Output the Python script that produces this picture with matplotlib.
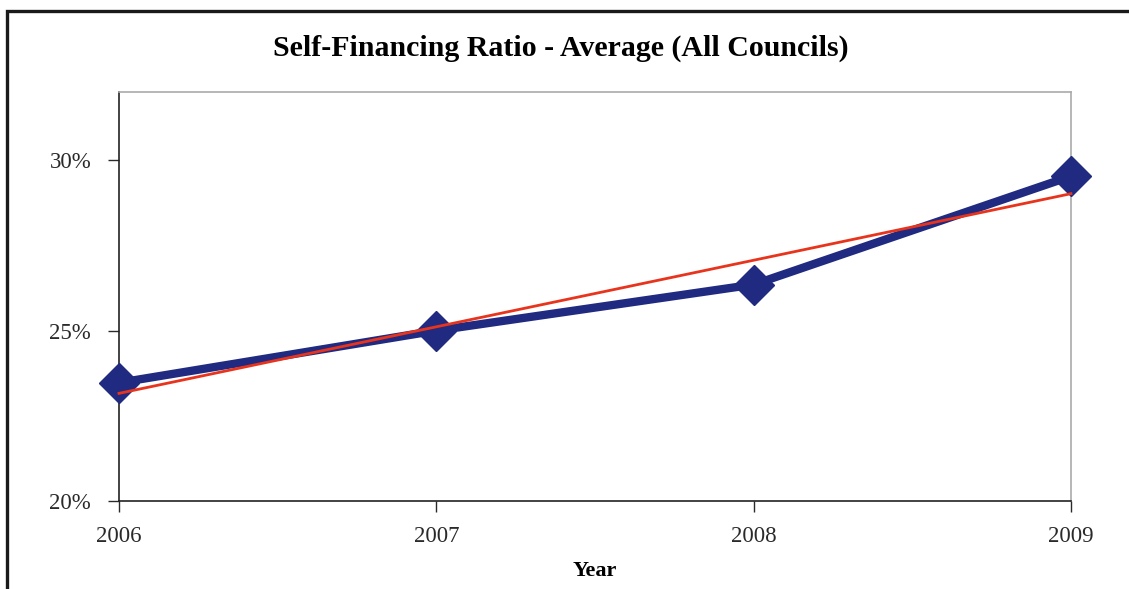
import numpy as np
import matplotlib
matplotlib.use("Agg")
from matplotlib import pyplot as plt
from matplotlib.patches import Rectangle
from matplotlib.ticker import FuncFormatter

years = [2006, 2007, 2008, 2009]
ratio = [23.47, 25.0, 26.35, 29.53]   # average self-financing ratio, %
yticks = [20, 25, 30]

plt.rcParams['font.family'] = ['Liberation Serif', 'DejaVu Serif']

fig = plt.figure(figsize=(11.29, 5.89), dpi=100)
ax = fig.add_axes([0.1054, 0.1494, 0.8432, 0.6944])

# linear trend through the four points
slope, icpt = np.polyfit(years, ratio, 1)
trend = [slope * y + icpt for y in years]

ax.plot(years, ratio, color='#1f2a80', lw=6.0, marker='D', ms=20,
        solid_joinstyle='miter', zorder=3, clip_on=False)
ax.plot(years, trend, color='#e8341c', lw=2.0, zorder=4, clip_on=False)

ax.set_xlim(2006, 2009)
ax.set_ylim(20, 32)
ax.set_xticks(years)
ax.set_yticks(yticks)
ax.yaxis.set_major_formatter(FuncFormatter(lambda v, p: f"{v:.0f}%"))
ax.tick_params(axis='both', direction='out', length=8, width=1, labelsize=16.5,
               colors='#2a2a2a')
ax.tick_params(axis='x', pad=10)
ax.tick_params(axis='y', pad=12)

for s in ('top', 'right'):
    ax.spines[s].set_color('#aaaaaa')
    ax.spines[s].set_linewidth(1.2)
for s in ('left', 'bottom'):
    ax.spines[s].set_color('#222222')
    ax.spines[s].set_linewidth(1.2)

ax.set_xlabel('Year', fontsize=16, fontweight='bold', labelpad=10)
fig.text(0.497, 0.918, 'Self-Financing Ratio - Average (All Councils)',
         ha='center', va='center', fontsize=21.5, fontweight='bold')

# outer frame, cut off at right and bottom
fig.patches.append(Rectangle((7 / 1129, -0.05), 1.1, 0.05 + (589 - 11) / 589,
                             transform=fig.transFigure, fill=False,
                             edgecolor='#1a1a1a', lw=2.4, clip_on=False))

fig.savefig('out.png', dpi=100)
